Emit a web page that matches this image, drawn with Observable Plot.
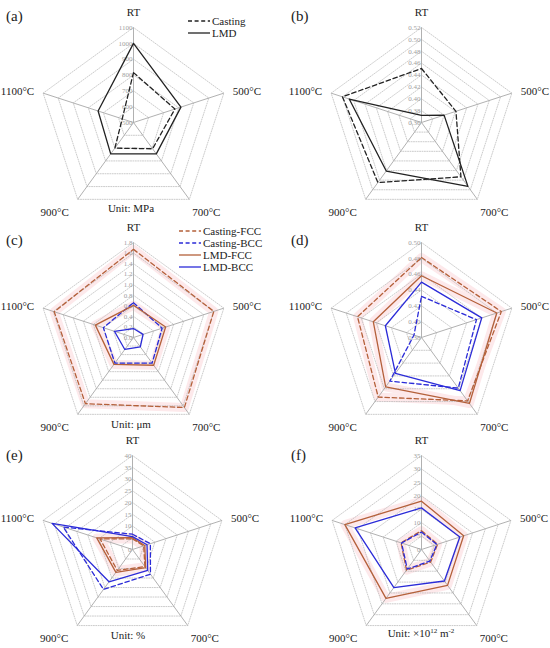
<!DOCTYPE html>
<html><head><meta charset="utf-8">
<script src="https://cdn.jsdelivr.net/npm/d3@7"></script>
<script src="https://cdn.jsdelivr.net/npm/@observablehq/plot@0.6"></script>
<style>
body{margin:0;background:#fff;}
#root{position:relative;width:550px;height:648px;font-family:"Liberation Serif","Times New Roman",serif;overflow:hidden;}
.panel{position:absolute;}
</style></head><body><div id="root"></div>
<script>
const categories = ["RT","500°C","700°C","900°C","1100°C"];

// (a) strength, MPa
const ticksA = [500,600,700,800,900,1000,1100];
const castingA = [815, 775, 705, 700, 575];
const lmdA = [1000, 815, 745, 745, 735];

// (b)
const ticksB = [0.36,0.38,0.40,0.42,0.44,0.46,0.48,0.50,0.52];
const castingB = [0.451, 0.421, 0.473, 0.485, 0.500];
const lmdB = [0.372, 0.400, 0.493, 0.461, 0.488];

// (c) μm
const ticksC = [0,0.2,0.4,0.6,0.8,1.0,1.2,1.4,1.6,1.8];
const castingFccC = [1.67, 1.60, 1.64, 1.55, 1.58];
const castingBccC = [0.66, 0.57, 0.60, 0.60, 0.60];
const lmdFccC = [0.61, 0.64, 0.65, 0.63, 0.76];
const lmdBccC = [0.17, 0.19, 0.22, 0.28, 0.38];

// (d)
const ticksD = [0.38,0.40,0.42,0.44,0.46,0.48,0.50];
const castingFccD = [0.481, 0.486, 0.479, 0.473, 0.465];
const castingBccD = [0.432, 0.453, 0.459, 0.448, 0.390];
const lmdFccD = [0.458, 0.480, 0.483, 0.457, 0.444];
const lmdBccD = [0.450, 0.460, 0.463, 0.436, 0.428];

// (e) %
const ticksE = [0,5,10,15,20,25,30,35,40];
const castingFccE = [4.5, 5, 9, 11, 14.5];
const castingBccE = [6.5, 8, 13, 21, 31];
const lmdFccE = [5, 5.5, 9.5, 12, 16];
const lmdBccE = [5.5, 6.5, 11, 17, 36];

// (f) ×10^12 m^-2
const ticksF = [0,5,10,15,20,25,30,35];
const castingFccF = [7, 6.3, 5.8, 9.5, 8];
const castingBccF = [6.5, 6, 5.3, 9, 7.8];
const lmdFccF = [18, 16.5, 16.5, 22.5, 30];
const lmdBccF = [15.5, 15, 14.5, 17.5, 26];

const FCC = "#b4603a", BCC = "#2b2bd8", BLACK = "#222";
const BAND = "#fde9eb";
const FONT = "Liberation Serif";

const labelSpec = [
  {dx:0, dy:-15, anchor:"middle"},
  {dx:9, dy:-2, anchor:"start"},
  {dx:17, dy:13, anchor:"middle"},
  {dx:-23, dy:13, anchor:"middle"},
  {dx:-9, dy:-2, anchor:"end"}
];

function radar(cfg) {
  const {left, top, width, height, cx, cy, R, ticks, decimals, series, letter, letterX, letterY, legend, unit, unitX, unitY} = cfg;
  const lo = ticks[0], hi = ticks[ticks.length-1];
  const norm = v => (v - lo) / (hi - lo);
  const ang = i => i * 2 * Math.PI / 5;
  const px = (i, v) => norm(v) * Math.sin(ang(i));
  const py = (i, v) => norm(v) * Math.cos(ang(i));
  const rings = ticks.slice(1).flatMap(t => categories.map((c, i) => ({t, i})));
  const axes = categories.map((c, i) => ({c, i}));
  const marks = [];
  // bands
  for (const s of series) {
    if (!s.band) continue;
    const pts = s.values.map((v, i) => ({v, i}));
    marks.push(Plot.line(pts, {x: d => px(d.i, d.v), y: d => py(d.i, d.v), curve: "linear-closed",
      stroke: BAND, strokeWidth: 9, strokeLinejoin: "round"}));
  }
  marks.push(Plot.line(rings, {x: d => px(d.i, d.t), y: d => py(d.i, d.t), z: "t", curve: "linear-closed",
    stroke: "#b4b4b4", strokeWidth: 0.7, strokeDasharray: "1,1.4"}));
  marks.push(Plot.link(axes, {x1: () => 0, y1: () => 0, x2: d => px(d.i, hi), y2: d => py(d.i, hi),
    stroke: "#a8a8a8", strokeWidth: 0.9}));
  marks.push(Plot.text(ticks, {x: () => 0, y: t => norm(t), text: t => t.toFixed(decimals),
    textAnchor: "end", dx: -1, fontSize: 7, fill: "#a0a0a0", fontFamily: FONT}));
  for (const s of series) {
    const pts = s.values.map((v, i) => ({v, i}));
    marks.push(Plot.line(pts, {x: d => px(d.i, d.v), y: d => py(d.i, d.v), curve: "linear-closed",
      stroke: s.stroke, strokeWidth: 1.3, strokeDasharray: s.dash ? "4.5,2.8" : null}));
  }
  axes.forEach((a, i) => {
    const sp = labelSpec[i];
    marks.push(Plot.text([a], {x: d => px(d.i, hi), y: d => py(d.i, hi), text: "c",
      dx: sp.dx, dy: sp.dy, textAnchor: sp.anchor, fontSize: 11, fill: BLACK, fontFamily: FONT}));
  });
  const plot = Plot.plot({
    width, height, margin: 0,
    x: {axis: null, domain: [-1, 1], range: [cx - R, cx + R]},
    y: {axis: null, domain: [-1, 1], range: [cy + R, cy - R]},
    style: {background: "transparent", overflow: "visible"},
    marks
  });
  const svg = d3.select(plot).attr("font-family", FONT);
  svg.append("text").attr("x", letterX).attr("y", letterY).attr("dy", "0.35em")
    .attr("text-anchor", "start").attr("font-family", FONT)
    .attr("font-size", 15).attr("fill", BLACK).text(letter);
  if (legend) {
    series.forEach((s, k) => {
      const y = legend.y + k * legend.dy;
      svg.append("line").attr("x1", legend.x).attr("x2", legend.x + 22).attr("y1", y).attr("y2", y)
        .attr("stroke", s.stroke).attr("stroke-width", 1.3).attr("stroke-dasharray", s.dash ? "4,2.6" : null);
      svg.append("text").attr("x", legend.x + 24).attr("y", y).attr("dy", "0.35em")
        .attr("text-anchor", "start").attr("font-family", FONT)
        .attr("font-size", 11).attr("fill", BLACK).text(s.name);
    });
  }
  if (unit) {
    const t = svg.append("text").attr("x", unitX).attr("y", unitY).attr("dy", "0.35em")
      .attr("text-anchor", "middle").attr("font-family", FONT)
      .attr("font-size", 11).attr("fill", BLACK);
    unit.forEach(part => {
      const ts = t.append("tspan").text(part.t);
      if (part.sup) ts.attr("font-size", 7).attr("baseline-shift", "super");
    });
  }
  const div = document.createElement("div");
  div.className = "panel";
  div.style.left = left + "px";
  div.style.top = top + "px";
  div.appendChild(plot);
  document.getElementById("root").appendChild(div);
}

const R = 95;
radar({left:0, top:0, width:275, height:215, cx:133, cy:122, R, ticks:ticksA, decimals:0,
  series:[{name:"Casting", values:castingA, stroke:BLACK, dash:true},
          {name:"LMD", values:lmdA, stroke:BLACK, dash:false}],
  letter:"(a)", letterX:6, letterY:16, legend:{x:188, y:21, dy:12},
  unit:[{t:"Unit: MPa"}], unitX:131, unitY:208});

radar({left:275, top:0, width:275, height:215, cx:146, cy:122, R, ticks:ticksB, decimals:2,
  series:[{name:"Casting", values:castingB, stroke:BLACK, dash:true},
          {name:"LMD", values:lmdB, stroke:BLACK, dash:false}],
  letter:"(b)", letterX:16, letterY:16});

radar({left:0, top:215, width:275, height:215, cx:133, cy:122, R, ticks:ticksC, decimals:1,
  series:[{name:"Casting-FCC", values:castingFccC, stroke:FCC, dash:true, band:true},
          {name:"Casting-BCC", values:castingBccC, stroke:BCC, dash:true},
          {name:"LMD-FCC", values:lmdFccC, stroke:FCC, dash:false, band:true},
          {name:"LMD-BCC", values:lmdBccC, stroke:BCC, dash:false}],
  letter:"(c)", letterX:6, letterY:25, legend:{x:179, y:16, dy:12},
  unit:[{t:"Unit: μm"}], unitX:131, unitY:209});

radar({left:275, top:215, width:275, height:215, cx:146, cy:122, R, ticks:ticksD, decimals:2,
  series:[{name:"Casting-FCC", values:castingFccD, stroke:FCC, dash:true, band:true},
          {name:"Casting-BCC", values:castingBccD, stroke:BCC, dash:true},
          {name:"LMD-FCC", values:lmdFccD, stroke:FCC, dash:false, band:true},
          {name:"LMD-BCC", values:lmdBccD, stroke:BCC, dash:false}],
  letter:"(d)", letterX:16, letterY:25});

radar({left:0, top:430, width:275, height:218, cx:132, cy:119, R: 94, ticks:ticksE, decimals:0,
  series:[{name:"Casting-FCC", values:castingFccE, stroke:FCC, dash:true, band:true},
          {name:"Casting-BCC", values:castingBccE, stroke:BCC, dash:true},
          {name:"LMD-FCC", values:lmdFccE, stroke:FCC, dash:false, band:true},
          {name:"LMD-BCC", values:lmdBccE, stroke:BCC, dash:false}],
  letter:"(e)", letterX:6, letterY:25,
  unit:[{t:"Unit: %"}], unitX:128, unitY:205});

radar({left:275, top:430, width:275, height:218, cx:146, cy:119, R: 94, ticks:ticksF, decimals:0,
  series:[{name:"Casting-FCC", values:castingFccF, stroke:FCC, dash:true, band:true},
          {name:"Casting-BCC", values:castingBccF, stroke:BCC, dash:true},
          {name:"LMD-FCC", values:lmdFccF, stroke:FCC, dash:false, band:true},
          {name:"LMD-BCC", values:lmdBccF, stroke:BCC, dash:false}],
  letter:"(f)", letterX:16, letterY:25,
  unit:[{t:"Unit: ×10"},{t:"12",sup:true},{t:" m"},{t:"-2",sup:true}], unitX:146, unitY:203});
</script>
</body></html>
